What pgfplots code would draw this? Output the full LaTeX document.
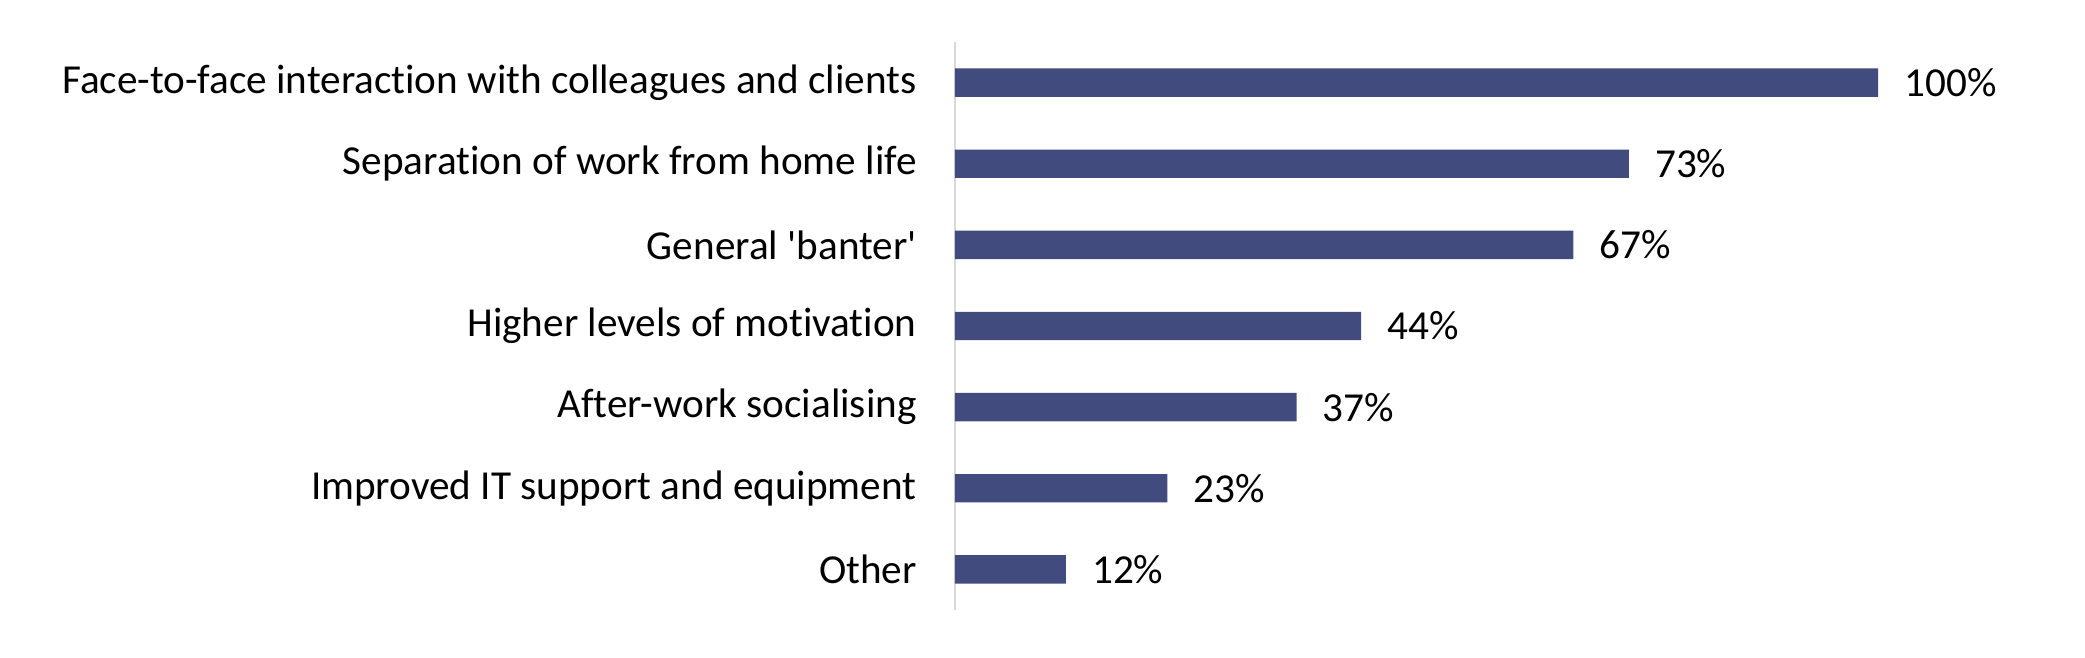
\documentclass[border=0pt]{standalone}
\usepackage{pgfplots}
\pgfplotsset{compat=1.18}
\usepackage{fontspec}
\setmainfont{Carlito}[Ligatures={NoCommon}]
\definecolor{barblue}{HTML}{414B7E}
\definecolor{axisgray}{HTML}{D9D9D9}
\begin{document}
\begin{tikzpicture}
\begin{axis}[
  at={(477.5pt,24pt)}, anchor=south west,
  scale only axis,
  width=461.5pt, height=284pt,
  xbar, bar width=14.2pt,
  xmin=0, xmax=100,
  ymin=-0.5, ymax=6.5,
  y dir=reverse,
  axis x line=none,
  axis y line*=left,
  y axis line style={draw=axisgray, line width=1.3pt},
  ytick={0,1,2,3,4,5,6},
  yticklabels={Face-to-face interaction with colleagues and clients,Separation of work from home life,General \textquotesingle banter\textquotesingle,Higher levels of motivation,After-work socialising,Improved IT support and equipment,Other},
  major tick length=0pt,
  ytick style={draw=none},
  yticklabel style={font=\fontsize{20.6pt}{24pt}\selectfont, inner sep=0pt, xshift=-19pt, text=black},
  clip=false,
  /pgf/number format/assume math mode=true,
  nodes near coords={\pgfmathprintnumber{\pgfplotspointmeta}\%},
  nodes near coords style={font=\fontsize{20.6pt}{24pt}\selectfont, anchor=west, inner sep=0pt, xshift=13pt, text=black},
  point meta=explicit,
]
\addplot[fill=barblue, draw=none] coordinates {
  (100,0) [100]
  (73,1) [73]
  (67,2) [67]
  (44,3) [44]
  (37,4) [37]
  (23,5) [23]
  (12,6) [12]
};
\end{axis}
\pgfresetboundingbox
\path (0,0) rectangle (1042.5pt,329pt);
\end{tikzpicture}
\end{document}
